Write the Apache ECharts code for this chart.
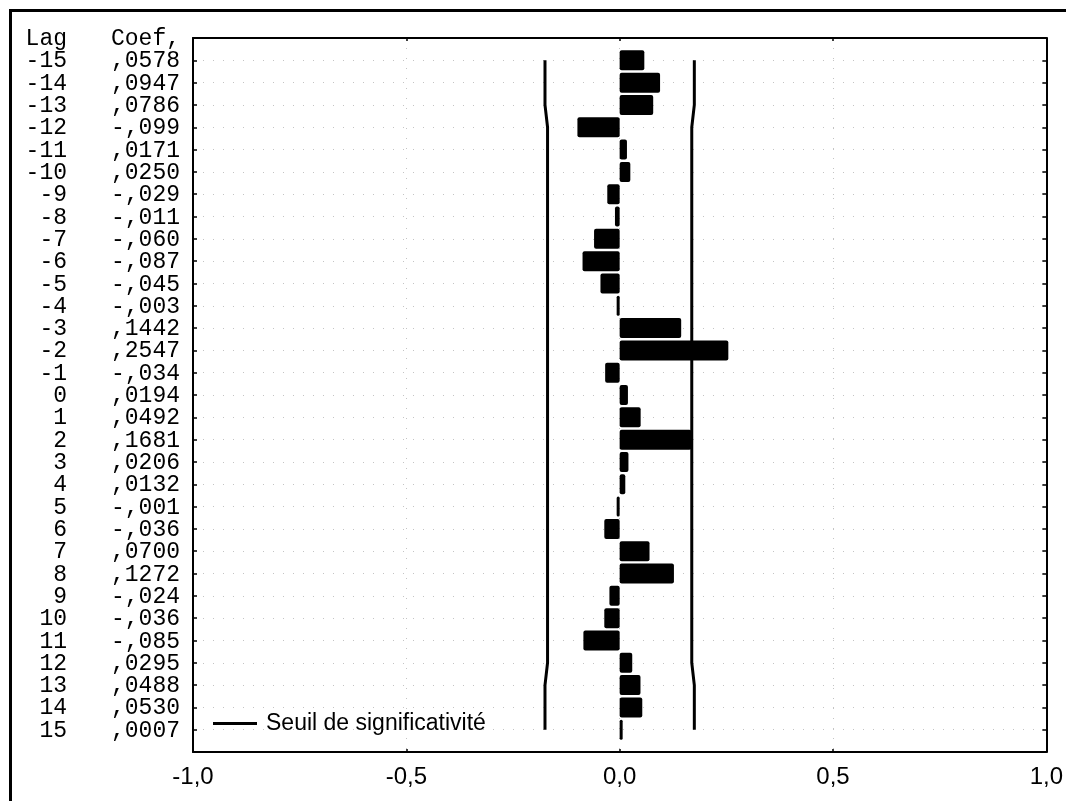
<!DOCTYPE html>
<html>
<head>
<meta charset="utf-8">
<title>Corrélation croisée</title>
<script src="https://cdn.jsdelivr.net/npm/echarts@6/dist/echarts.min.js"></script>
<style>
  html, body { margin: 0; padding: 0; background: #fff; }
  #chart { width: 1066px; height: 801px; }
</style>
</head>
<body>
<div id="chart"></div>
<script>
// Cross-correlation coefficients by lag
const lags = [-15, -14, -13, -12, -11, -10, -9, -8, -7, -6, -5, -4, -3, -2, -1,
              0, 1, 2, 3, 4, 5, 6, 7, 8, 9, 10, 11, 12, 13, 14, 15];
const coefs = [0.0578, 0.0947, 0.0786, -0.099, 0.0171, 0.0250, -0.029, -0.011, -0.060, -0.087,
               -0.045, -0.003, 0.1442, 0.2547, -0.034, 0.0194, 0.0492, 0.1681, 0.0206, 0.0132,
               -0.001, -0.036, 0.0700, 0.1272, -0.024, -0.036, -0.085, 0.0295, 0.0488, 0.0530, 0.0007];
// Significance threshold (±) at each lag
const limits = [0.175, 0.175, 0.175, 0.169, 0.169, 0.169, 0.169, 0.169, 0.169, 0.169,
                0.169, 0.169, 0.169, 0.169, 0.169, 0.169, 0.169, 0.169, 0.169, 0.169,
                0.169, 0.169, 0.169, 0.169, 0.169, 0.169, 0.169, 0.169, 0.175, 0.175, 0.175];
const xTickValues = [-1, -0.5, 0, 0.5, 1];
const xTickLabels = ['-1,0', '-0,5', '0,0', '0,5', '1,0'];
const headerLag = 'Lag';
const headerCoef = 'Coef,';
const legendLabel = 'Seuil de significativité';

// Coefficient text in the listing style: ",0578" / "-,099"
function fmtCoef(v) {
  if (v < 0) return '-,' + Math.abs(v).toFixed(3).slice(2);
  return ',' + v.toFixed(4).slice(2);
}

const TOP_KEY = 'hdr';
const END_KEY = 'end';
const cats = [TOP_KEY].concat(lags.map(String), [END_KEY]);
const coefByLag = {};
lags.forEach((l, i) => { coefByLag[String(l)] = coefs[i]; });

const barData = ['-'].concat(coefs, ['-']);
const upperLine = lags.map((l, i) => [limits[i], String(l)]);
const lowerLine = lags.map((l, i) => [-limits[i], String(l)]);

const mono = 'Liberation Mono';
const sans = 'Liberation Sans';
const gridDots = { color: '#c4c4c4', width: 1, type: [1, 9] };

const chart = echarts.init(document.getElementById('chart'), null, { renderer: 'canvas' });

chart.setOption({
  animation: false,
  backgroundColor: '#fff',
  grid: { left: 193, right: 12, top: 38, bottom: 49, containLabel: false },
  xAxis: [{
    type: 'value', position: 'bottom',
    min: -1, max: 1, interval: 0.5,
    axisLine: { show: true, onZero: false, lineStyle: { color: '#000', width: 2 } },
    axisTick: { show: true, inside: true, length: 3, lineStyle: { color: '#000', width: 1.5 } },
    axisLabel: {
      margin: 13, color: '#000', fontFamily: sans, fontSize: 24,
      formatter: v => {
        const i = xTickValues.findIndex(t => Math.abs(t - v) < 1e-9);
        return i >= 0 ? xTickLabels[i] : '';
      }
    },
    splitLine: { show: true, lineStyle: gridDots }
  }, {
    type: 'value', position: 'top',
    min: -1, max: 1, interval: 0.5,
    axisLine: { show: true, onZero: false, lineStyle: { color: '#000', width: 2 } },
    axisTick: { show: true, inside: true, length: 3, lineStyle: { color: '#000', width: 1.5 } },
    axisLabel: { show: false },
    splitLine: { show: false }
  }],
  yAxis: [{
    type: 'category', data: cats, inverse: true, boundaryGap: false, position: 'left',
    axisLine: { show: true, onZero: false, lineStyle: { color: '#000', width: 2 } },
    axisTick: { show: true, inside: true, length: 4, interval: 0, lineStyle: { color: '#000', width: 1.5 } },
    splitLine: { show: true, interval: 0, lineStyle: gridDots },
    axisLabel: {
      show: true, interval: 0, margin: 13, align: 'right',
      formatter: v => {
        if (v === TOP_KEY) return '{lag|' + headerLag + '}{coef|' + headerCoef + '}';
        if (v === END_KEY) return '';
        return '{lag|' + v + '}{coef|' + fmtCoef(coefByLag[v]) + '}';
      },
      rich: {
        lag: { fontFamily: mono, fontSize: 23, color: '#000', width: 50, align: 'right', padding: [2, 0, 0, 0] },
        coef: { fontFamily: mono, fontSize: 23, color: '#000', width: 113, align: 'right', padding: [2, 0, 0, 0] }
      }
    }
  }, {
    type: 'category', data: cats, inverse: true, boundaryGap: false, position: 'right',
    axisLine: { show: true, onZero: false, lineStyle: { color: '#000', width: 2 } },
    axisTick: { show: true, inside: true, length: 4, interval: 0, lineStyle: { color: '#000', width: 1.5 } },
    axisLabel: { show: false },
    splitLine: { show: false }
  }],
  legend: {
    show: true,
    left: 208, top: 707,
    orient: 'horizontal',
    itemWidth: 44, itemHeight: 16,
    icon: 'path://M0,6.5 L44,6.5 L44,9.5 L0,9.5 Z',
    data: [{ name: legendLabel, itemStyle: { color: '#000' } }],
    textStyle: { color: '#000', fontFamily: sans, fontSize: 23, padding: [0, 0, 0, 4] },
    selectedMode: false
  },
  series: [{
    type: 'bar',
    name: 'Coef',
    xAxisIndex: 0, yAxisIndex: 0,
    data: barData,
    barWidth: 20,
    barMinHeight: 3,
    itemStyle: { color: '#000', borderRadius: 2 },
    z: 3
  }, {
    type: 'line',
    name: legendLabel,
    xAxisIndex: 0, yAxisIndex: 0,
    data: upperLine,
    symbol: 'none',
    lineStyle: { color: '#000', width: 3 },
    itemStyle: { color: '#000' },
    z: 4
  }, {
    type: 'line',
    name: legendLabel,
    xAxisIndex: 0, yAxisIndex: 0,
    data: lowerLine,
    symbol: 'none',
    lineStyle: { color: '#000', width: 3 },
    itemStyle: { color: '#000' },
    z: 4
  }],
  graphic: [{
    type: 'rect',
    silent: true,
    shape: { x: 10.5, y: 10.5, width: 1080, height: 820 },
    style: { fill: 'none', stroke: '#000', lineWidth: 3 }
  }]
});
</script>
</body>
</html>
